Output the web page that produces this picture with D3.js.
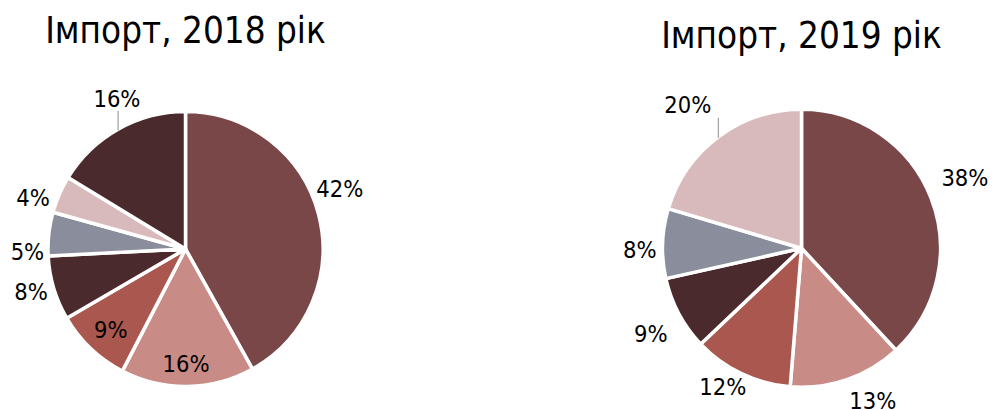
<!DOCTYPE html>
<html>
<head>
<meta charset="utf-8">
<script src="https://cdn.jsdelivr.net/npm/d3@7"></script>
<style>
  html, body { margin: 0; padding: 0; background: #ffffff; }
  svg { display: block; }
  text { font-family: "DejaVu Sans Condensed", "DejaVu Sans", sans-serif; font-stretch: condensed; fill: #000; }
</style>
</head>
<body>
<svg id="chart" width="993" height="410"></svg>
<script>
// ---- data ----
const titles2018 = "Імпорт, 2018 рік";
const titles2019 = "Імпорт, 2019 рік";
const categories2018 = ["A", "B", "C", "D", "E", "F", "G"];
const values2018 = [41.9, 15.7, 9.0, 7.6, 5.1, 4.4, 16.3];
const categories2019 = ["A", "B", "C", "D", "E", "F"];
const values2019 = [38.1, 13.2, 11.6, 8.6, 8.1, 20.4];

// ---- styles / layout ----
const colors2018 = ["#7a4749", "#c98b86", "#a9574f", "#4a2a2d", "#8a8d9b", "#d9babc", "#4a2a2d"];
const colors2019 = ["#7a4749", "#c98b86", "#a9574f", "#4a2a2d", "#8a8d9b", "#d9babc"];
// label placement: radial distance (fraction of radius) and angular nudge (degrees)
const labelLayout2018 = [
  {d: 1.205, nudge: -6.8}, {d: 0.83, nudge: 0.6}, {d: 0.80, nudge: -0.8},
  {d: 1.165, nudge: 1.2}, {d: 1.15, nudge: -7.2}, {d: 1.17, nudge: -4.7}, {d: 1.205, nudge: 4.9, leader: true}
];
const labelLayout2019 = [
  {d: 1.28, nudge: -1.9}, {d: 1.21, nudge: -6.0}, {d: 1.145, nudge: 4.1},
  {d: 1.245, nudge: -1.4}, {d: 1.163, nudge: -2.4}, {d: 1.317, nudge: -1.7, leader: true}
];

const svg = d3.select("#chart");

function drawPie(cfg) {
  const g = svg.append("g").attr("transform", `translate(${cfg.cx},${cfg.cy})`);
  const pie = d3.pie().sort(null).value(d => d.value);
  const arcs = pie(cfg.values.map((v, i) => ({value: v, cat: cfg.categories[i]})));
  const arc = d3.arc().innerRadius(0).outerRadius(cfg.r);
  const color = d3.scaleOrdinal().domain(d3.range(cfg.values.length)).range(cfg.colors);

  g.selectAll("path.slice").data(arcs).join("path")
    .attr("class", "slice")
    .attr("d", arc)
    .attr("fill", (d, i) => color(i))
    .attr("stroke", "#ffffff")
    .attr("stroke-width", 3.5)
    .attr("stroke-linejoin", "round");

  arcs.forEach((d, i) => {
    const lay = cfg.layout[i];
    const mid = (d.startAngle + d.endAngle) / 2;
    const a = mid + lay.nudge * Math.PI / 180;
    const x = Math.sin(a) * cfg.r * lay.d;
    const y = -Math.cos(a) * cfg.r * lay.d;
    g.append("text")
      .attr("x", x).attr("y", y)
      .attr("dy", "0.36em")
      .attr("text-anchor", "middle")
      .attr("font-size", cfg.labelSize)
      .text(Math.round(d.value) + "%");
    if (lay.leader) {
      const ax = Math.sin(mid) * cfg.r;
      const ay = -Math.cos(mid) * cfg.r;
      g.append("line")
        .attr("x1", ax).attr("y1", ay + 1)
        .attr("x2", ax).attr("y2", y + cfg.labelSize * 0.55)
        .attr("stroke", "#a6a6a6")
        .attr("stroke-width", 1.3);
    }
  });

  svg.append("text")
    .attr("x", cfg.cx).attr("y", cfg.titleY)
    .attr("text-anchor", "middle")
    .attr("font-size", 36.5)
    .text(cfg.title);
}

drawPie({cx: 185.5, cy: 249, r: 137.5, values: values2018, categories: categories2018,
  colors: colors2018, layout: labelLayout2018, title: titles2018, titleY: 43, labelSize: 23.5});
drawPie({cx: 801.5, cy: 248.3, r: 139, values: values2019, categories: categories2019,
  colors: colors2019, layout: labelLayout2019, title: titles2019, titleY: 48, labelSize: 23.5});
</script>
</body>
</html>
